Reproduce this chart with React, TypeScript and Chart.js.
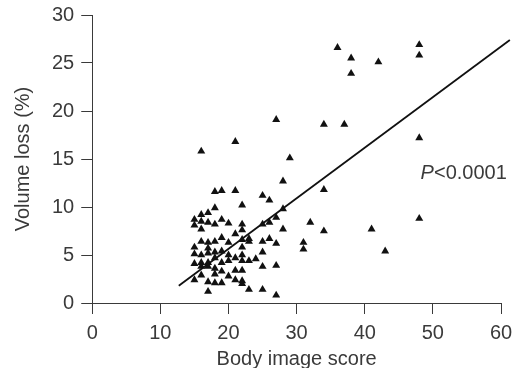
import React, { useEffect, useRef } from "react";
import { Chart, registerables } from "chart.js";

Chart.register(...registerables);

// Scatter points: body image score (x) and volume loss % (y)
const bodyScore = [
  15, 15, 15, 15, 15, 15,
  16, 16, 16, 16, 16, 16, 16, 16, 16,
  17, 17, 17, 17, 17, 17, 17, 17, 17,
  18, 18, 18, 18, 18, 18, 18, 18, 18,
  19, 19, 19, 19, 19, 19, 19,
  20, 20, 20, 20, 20,
  21, 21, 21, 21, 21, 21,
  22, 22, 22, 22, 22, 22, 22, 22, 22, 22,
  23, 23, 23, 23,
  24,
  25, 25, 25, 25, 25, 25,
  26, 26, 26,
  27, 27, 27, 27, 27,
  28, 28, 28,
  29,
  31, 31,
  32,
  34, 34, 34,
  36,
  37,
  38, 38,
  41,
  42,
  43,
  48, 48, 48, 48,
];
const volumeLoss = [
  8.7, 8.1, 5.8, 5.1, 4.1, 2.4,
  15.8, 9.2, 8.5, 7.7, 6.4, 5.0, 4.2, 3.8, 2.9,
  9.4, 8.4, 6.3, 5.7, 5.2, 4.2, 3.8, 2.2, 1.2,
  11.6, 9.9, 8.2, 6.4, 5.3, 4.7, 3.6, 3.0, 2.1,
  11.7, 8.7, 6.8, 5.4, 4.2, 3.3, 2.1,
  8.3, 6.3, 5.0, 4.4, 2.8,
  16.8, 11.7, 7.2, 4.7, 3.4, 2.4,
  10.2, 8.2, 7.6, 6.6, 5.8, 5.0, 4.4, 3.4, 2.3, 2.0,
  6.7, 6.4, 4.4, 1.4,
  4.6,
  11.2, 8.2, 6.4, 5.3, 3.8, 1.4,
  10.7, 8.4, 6.7,
  19.1, 8.9, 6.2, 3.9, 0.8,
  12.7, 9.8, 7.7,
  15.1,
  6.3, 5.6,
  8.4,
  18.6, 11.8, 7.5,
  26.6,
  18.6,
  25.5, 23.9,
  7.7,
  25.1,
  5.4,
  26.9, 25.8, 17.2, 8.8,
];

// Regression line end points
const fitX = [12.7, 61.3];
const fitY = [1.8, 27.4];

// Annotation
const pTextX = 48.2;
const pTextY = 13.5;
const pTextItalic = "P";
const pTextRest = "<0.0001";

const xTitle = "Body image score";
const yTitle = "Volume loss (%)";
const xMin = 0, xMax = 60, xStep = 10;
const yMin = 0, yMax = 30, yStep = 5;

const FONT = "'Liberation Sans', Arial, sans-serif";
const TEXT = "#3a3a3a";
const FS = 20;

export default function App() {
  const ref = useRef<HTMLCanvasElement>(null);
  useEffect(() => {
    if (!ref.current) return;
    const pPlugin = {
      id: "pText",
      afterDatasetsDraw(chart: any) {
        const { ctx, scales } = chart;
        const px = scales.x.getPixelForValue(pTextX);
        const py = scales.y.getPixelForValue(pTextY);
        ctx.save();
        ctx.fillStyle = TEXT;
        ctx.textAlign = "left";
        ctx.textBaseline = "middle";
        ctx.font = `italic ${FS}px ${FONT}`;
        ctx.fillText(pTextItalic, px, py);
        const w = ctx.measureText(pTextItalic).width;
        ctx.font = `${FS}px ${FONT}`;
        ctx.fillText(pTextRest, px + w, py);
        ctx.restore();
      },
    };
    const chart = new Chart(ref.current, {
      type: "scatter",
      data: {
        datasets: [
          {
            type: "scatter",
            data: bodyScore.map((x, i) => ({ x, y: volumeLoss[i] })),
            pointStyle: "triangle",
            pointRadius: 4.6,
            backgroundColor: "#111",
            borderColor: "#111",
            borderWidth: 0,
          },
          {
            type: "line",
            data: fitX.map((x, i) => ({ x, y: fitY[i] })),
            borderColor: "#111",
            borderWidth: 1.8,
            pointRadius: 0,
            fill: false,
            clip: false,
          } as any,
        ],
      },
      plugins: [pPlugin],
      options: {
        responsive: false,
        animation: false,
        layout: { padding: { left: 9, right: 0, top: 0, bottom: 0 } },
        plugins: { legend: { display: false }, tooltip: { enabled: false } },
        scales: {
          x: {
            type: "linear",
            min: xMin,
            max: xMax,
            afterFit: (s: any) => {
              s.height = 68;
              s.paddingRight = 13;
              s.paddingLeft = 0;
            },
            ticks: { stepSize: xStep, color: TEXT, font: { family: FONT, size: FS }, padding: 7 },
            grid: { drawOnChartArea: false, drawTicks: true, tickLength: 11, color: TEXT, lineWidth: 1 },
            border: { display: true, color: TEXT, width: 1 },
            title: { display: true, text: xTitle, color: TEXT, font: { family: FONT, size: FS }, padding: { top: 0, bottom: 0 } },
          },
          y: {
            type: "linear",
            min: yMin,
            max: yMax,
            afterFit: (s: any) => {
              s.paddingTop = 15;
              s.paddingBottom = 0;
            },
            ticks: { stepSize: yStep, color: TEXT, font: { family: FONT, size: FS }, padding: 7 },
            grid: { drawOnChartArea: false, drawTicks: true, tickLength: 11, color: TEXT, lineWidth: 1 },
            border: { display: true, color: TEXT, width: 1 },
            title: { display: true, text: yTitle, color: TEXT, font: { family: FONT, size: FS }, padding: { top: 2, bottom: 10 } },
          },
        },
      },
    });
    return () => chart.destroy();
  }, []);
  return (
    <div style={{ position: "fixed", left: 0, top: 0, width: 514, height: 368, background: "#fff", overflow: "hidden" }}>
      <canvas ref={ref} width={514} height={371} style={{ display: "block" }} />
    </div>
  );
}
